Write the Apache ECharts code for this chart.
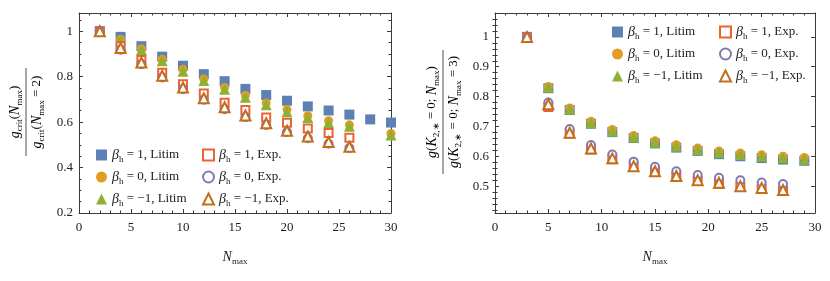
<!DOCTYPE html>
<html><head><meta charset="utf-8">
<script src="https://cdn.jsdelivr.net/npm/echarts@6/dist/echarts.min.js"></script>
<style>html,body{margin:0;padding:0;background:#fff}#c{width:830px;height:281px}</style>
</head><body><div id="c"></div>
<script>
const FONT = 'Liberation Serif';
// ---------- Left panel data ----------
const xLeft = [2,4,6,8,10,12,14,16,18,20,22,24,26,28,30];
const leftB1Litim  = [1,0.975,0.934,0.888,0.848,0.811,0.780,0.746,0.719,0.694,0.669,0.651,0.633,0.612,0.598];
const leftB0Litim  = [1,0.965,0.923,0.876,0.832,0.790,0.752,0.717,0.684,0.655,0.628,0.606,0.588,null,0.550];
const leftBm1Litim = [1,0.962,0.918,0.870,0.824,0.783,0.745,0.709,0.676,0.646,0.620,0.597,0.582,null,0.543];
const leftB1Exp    = [1,0.934,0.873,0.817,0.767,0.726,0.685,0.653,0.620,0.597,0.572,0.552,0.531];
const leftB0Exp    = [1,0.918,0.855,0.796,0.745,0.698,0.657,0.622,0.587,0.556,0.529,0.505,0.486];
const leftBm1Exp   = [1,0.926,0.862,0.804,0.752,0.705,0.665,0.629,0.595,0.562,0.537,0.512,0.491];
// ---------- Right panel data ----------
const xRight = [3,5,7,9,11,13,15,17,19,21,23,25,27,29];
const rightB1Litim  = [1,0.828,0.755,0.709,0.681,0.661,0.643,0.629,0.618,0.607,0.600,0.594,0.589,0.585];
const rightB0Litim  = [1,0.834,0.762,0.717,0.690,0.670,0.652,0.639,0.628,0.618,0.611,0.605,0.600,0.596];
const rightBm1Litim = [1,0.831,0.758,0.712,0.685,0.665,0.647,0.634,0.623,0.613,0.606,0.600,0.595,0.590];
const rightB1Exp    = [1,0.765,0.676,0.623,0.590,0.564,0.547,0.531,0.517,0.508,0.497,0.491,0.484];
const rightB0Exp    = [1,0.780,0.691,0.638,0.606,0.582,0.565,0.550,0.537,0.528,0.520,0.512,0.507];
const rightBm1Exp   = [1,0.774,0.679,0.626,0.593,0.567,0.550,0.534,0.520,0.511,0.500,0.494,0.487];
// ---------- ticks ----------
const rightYMajor = [0.5,0.6,0.7,0.8,0.9,1];
const rightYMinor = [0.42,0.44,0.46,0.48,0.52,0.54,0.56,0.58,0.62,0.64,0.66,0.68,0.72,0.74,0.76,0.78,0.82,0.84,0.86,0.88,0.92,0.94,0.96,0.98,1.02,1.04,1.06];
// ---------- labels ----------
const legendLabels = {
  b1L: '{i|β}{s|h}{t| = 1, Litim}',
  b0L: '{i|β}{s|h}{t| = 0, Litim}',
  bm1L: '{i|β}{s|h}{t| = −1, Litim}',
  b1E: '{i|β}{s|h}{t| = 1, Exp.}',
  b0E: '{i|β}{s|h}{t| = 0, Exp.}',
  bm1E: '{i|β}{s|h}{t| = −1, Exp.}'
};

const C = {blue:'#5E81B5', orange:'#E19C24', green:'#8FB032', red:'#EB6235', purple:'#8778B3', dorange:'#C56E1A'};
const AX = '#3a3a3a';
const richStyles = {
  i:{fontStyle:'italic', fontSize:14, fontFamily:FONT, color:'#222', lineHeight:18, verticalAlign:'middle'},
  s:{fontSize:9, fontFamily:FONT, color:'#222', lineHeight:9, verticalAlign:'bottom'},
  t:{fontSize:13, fontFamily:FONT, color:'#222', lineHeight:18, verticalAlign:'middle'}
};

function pairs(xs, ys){ const out=[]; ys.forEach((v,i)=>{ if(v!==null && v!==undefined) out.push([xs[i], v]); }); return out; }
function fmt(v){ return String(+v.toFixed(2)); }

function xAx(grid, pos, labels){
  return {type:'value', gridIndex:grid, position:pos, min:0, max:30, interval:5,
    axisLine:{show:true, onZero:false, lineStyle:{color:AX, width:1}},
    axisTick:{show:true, inside:true, length:4, lineStyle:{color:AX}},
    minorTick:{show:true, splitNumber:5, length:2.5, lineStyle:{color:AX}},
    splitLine:{show:false}, minorSplitLine:{show:false},
    axisLabel:{show:labels, margin:8, color:'#222', fontFamily:FONT, fontSize:13},
    name: labels ? '{i|N}{s|max}' : '', nameLocation:'middle', nameGap:35,
    nameTextStyle:{rich:richStyles}
  };
}
function yLeftAx(pos, labels){
  return {type:'value', gridIndex:0, position:pos, min:0.2, max:1.08, interval:0.2,
    axisLine:{show:true, onZero:false, lineStyle:{color:AX, width:1}},
    axisTick:{show:true, inside:true, length:4, lineStyle:{color:AX}},
    minorTick:{show:true, splitNumber:4, length:2.5, lineStyle:{color:AX}},
    splitLine:{show:false}, minorSplitLine:{show:false},
    axisLabel:{show:labels, showMaxLabel:false, margin:6, color:'#222', fontFamily:FONT, fontSize:13,
      formatter:v=> (v>1.05 ? '' : fmt(v))}
  };
}
function yRightAx(pos, labels){
  return {type:'value', gridIndex:1, position:pos, min:0.41, max:1.08,
    axisLine:{show:true, onZero:false, lineStyle:{color:AX, width:1}},
    axisTick:{show:true, inside:true, length:4, customValues:rightYMajor, lineStyle:{color:AX}},
    splitLine:{show:false},
    axisLabel:{show:labels, customValues:rightYMajor, margin:6, color:'#222', fontFamily:FONT, fontSize:13, formatter:v=>fmt(v)}
  };
}
function yRightMinor(pos){
  return {type:'value', gridIndex:1, position:pos, min:0.41, max:1.08,
    axisLine:{show:false},
    axisTick:{show:true, inside:true, length:2.5, customValues:rightYMinor, lineStyle:{color:AX}},
    splitLine:{show:false}, axisLabel:{show:false}
  };
}

function sc(name, xi, yi, data, symbol, size, color, empty){
  return {type:'scatter', name, xAxisIndex:xi, yAxisIndex:yi, data, symbol, symbolSize:size,
    itemStyle: empty ? {color:color, borderColor:color, borderWidth:1.8, opacity:1} : {color:color, opacity:1},
    emphasis:{disabled:true}};
}

function legend(names, left, top){
  return {orient:'vertical', left, top, itemWidth:11, itemHeight:11, itemGap:6, selectedMode:false,
    data:names, formatter:n=>legendLabels[n.replace(/^[LR]_/,'')],
    textStyle:{fontFamily:FONT, fontSize:13, color:'#222', rich:richStyles}};
}

const chart = echarts.init(document.getElementById('c'), null, {renderer:'canvas'});
const option = {
  animation:false,
  backgroundColor:'#fff',
  grid:[
    {left:79, right:439, top:13, bottom:68, containLabel:false},
    {left:495, right:15, top:13, bottom:68, containLabel:false}
  ],
  xAxis:[xAx(0,'bottom',true), xAx(0,'top',false), xAx(1,'bottom',true), xAx(1,'top',false)],
  yAxis:[yLeftAx('left',true), yLeftAx('right',false), yRightAx('left',true), yRightAx('right',false), yRightMinor('left'), yRightMinor('right')],
  legend:[
    legend(['L_b1L','L_b0L','L_bm1L'], 91, 143),
    legend(['L_b1E','L_b0E','L_bm1E'], 197, 143),
    legend(['R_b1L','R_b0L','R_bm1L'], 607, 20),
    legend(['R_b1E','R_b0E','R_bm1E'], 714, 20)
  ],
  series:[
    sc('L_b1L',0,0,pairs(xLeft,leftB1Litim),'rect',10,C.blue,false),
    sc('L_b0L',0,0,pairs(xLeft,leftB0Litim),'circle',9,C.orange,false),
    sc('L_bm1L',0,0,pairs(xLeft,leftBm1Litim),'triangle',11,C.green,false),
    sc('L_b1E',0,0,pairs(xLeft,leftB1Exp),'emptyRect',8,C.red,true),
    sc('L_b0E',0,0,pairs(xLeft,leftB0Exp),'emptyCircle',8,C.purple,true),
    sc('L_bm1E',0,0,pairs(xLeft,leftBm1Exp),'emptyTriangle',10,C.dorange,true),
    sc('R_b1L',2,2,pairs(xRight,rightB1Litim),'rect',10,C.blue,false),
    sc('R_b0L',2,2,pairs(xRight,rightB0Litim),'circle',9,C.orange,false),
    sc('R_bm1L',2,2,pairs(xRight,rightBm1Litim),'triangle',11,C.green,false),
    sc('R_b1E',2,2,pairs(xRight,rightB1Exp),'emptyRect',8,C.red,true),
    sc('R_b0E',2,2,pairs(xRight,rightB0Exp),'emptyCircle',8,C.purple,true),
    sc('R_bm1E',2,2,pairs(xRight,rightBm1Exp),'emptyTriangle',10,C.dorange,true)
  ],
  graphic:[
    {type:'group', x:26, y:112, rotation:Math.PI/2, children:[
      {type:'text', x:0, y:-2, style:{text:'{i|g}{s|crit}{t|(}{i|N}{s|max}{t|)}', rich:richStyles, align:'center', verticalAlign:'bottom', fontFamily:FONT}},
      {type:'line', shape:{x1:-44, y1:0, x2:44, y2:0}, style:{stroke:'#222', lineWidth:0.8}},
      {type:'text', x:0, y:2, style:{text:'{i|g}{s|crit}{t|(}{i|N}{s|max}{t| = 2)}', rich:richStyles, align:'center', verticalAlign:'top', fontFamily:FONT}}
    ]},
    {type:'group', x:443, y:112, rotation:Math.PI/2, children:[
      {type:'text', x:0, y:-2, style:{text:'{i|g}{t|(}{i|K}{s|2,∗}{t| = 0; }{i|N}{s|max}{t|)}', rich:richStyles, align:'center', verticalAlign:'bottom', fontFamily:FONT}},
      {type:'line', shape:{x1:-62, y1:0, x2:62, y2:0}, style:{stroke:'#222', lineWidth:0.8}},
      {type:'text', x:0, y:2, style:{text:'{i|g}{t|(}{i|K}{s|2,∗}{t| = 0; }{i|N}{s|max}{t| = 3)}', rich:richStyles, align:'center', verticalAlign:'top', fontFamily:FONT}}
    ]}
  ]
};
chart.setOption(option);
</script></body></html>
